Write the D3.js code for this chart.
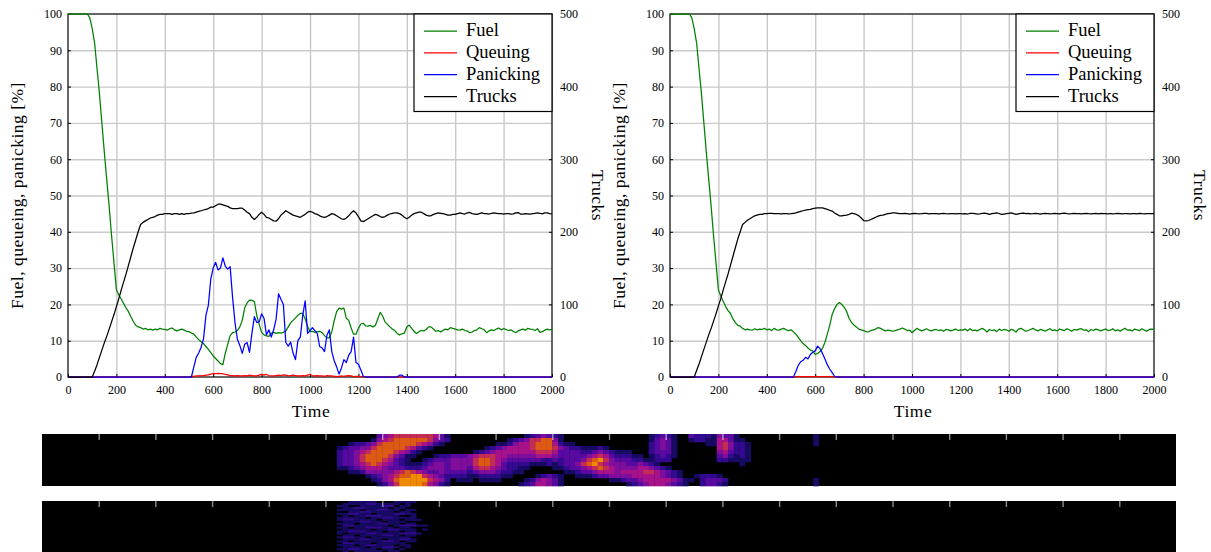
<!DOCTYPE html>
<head>
    <meta charset="utf-8">
    <style>
        body{
            margin:0;
            background:#fff;
        }
        svg{
            display:block;
        }
        text, .axis text{
            font-family:"Liberation Serif", serif;
            fill:#000;
        }
        .axis text{
            font-size:12px;
        }
        .axis .domain{
            display:none;
        }
        .grid line{
            stroke:#c9c9c9;
            stroke-width:1.4px;
        }
        .grid .domain, .grid text{
            display:none;
        }
        .series{
            fill:none;
            stroke-width:1.25px;
            stroke-linejoin:round;
        }
        .label{
            font-size:17.5px;
            letter-spacing:.5px;
        }
        .legend-text{
            font-size:18.5px;
        }
        .heat-ticks line{
            stroke:#fff;
            stroke-opacity:.55;
            stroke-width:1.4px;
        }
        .heat-ticks .domain, .heat-ticks text{
            display:none;
        }
    </style>
</head>
<body>
    <div id="chart"></div>
    <script src="https://d3js.org/d3.v7.min.js"></script>
    <script>
        // all series sampled every 10 time units, 0..2000
        var times = d3.range(0, 2001, 10);

        var fuelA = [
            100,100,100,100,100,100,100,100,100,99,
            96,92,85,78,70,62,54.5,47,39,31.5,
            24,22.6,21.5,20.2,19,18,16.6,15.3,14.2,13.8,
            13.6,13.2,13.4,13,13.2,12.9,13.2,13,13.4,13.2,
            13.1,12.9,13.3,13.5,13,12.7,13,13.2,12.9,12.6,
            12.5,12.1,11.8,11,10.3,9.7,9.2,8.4,7.6,6.7,
            5.8,5.1,4.4,3.7,3.4,6.6,9,11.4,12.2,12.4,
            12.8,13.8,15.6,19,20.4,21.2,21.1,20.8,17,14.5,
            12.3,11.6,11.3,11.2,12,12.3,12,12.2,12.1,12.3,
            12.7,13.8,14.9,15.6,16.3,17,17.5,17.5,16,14,
            12.5,12.6,12.3,12.5,12.6,12.2,11.4,10.8,10.8,12.4,
            15.5,18,19,18.7,19,16.2,15.6,13.5,11.8,11.8,
            13.4,14.6,14.8,14.1,14,14.2,13.8,14.2,16,17.8,
            16.8,15.2,14.5,13.8,13.2,12.8,12,11.6,11.9,12.1,
            13.8,14.3,13.4,12.6,12,12.5,12.8,12.7,13.1,13.8,
            13.8,13.2,12.6,12.8,12.4,12.9,13.2,13,13.6,13.4,
            13.2,13,12.9,13.2,12.8,12.7,12.2,12.4,12.8,13,
            13.6,13.3,13,12.2,12.7,13,12.8,13.2,13.5,13,
            13.3,13.1,12.8,13,12.6,12.2,12.7,13,13.2,12.9,
            13.4,13.2,13.1,12.8,13.3,12.3,12.5,12.9,13.2,13,
            13.1
        ];
        var queueA = [
            0,0,0,0,0,0,0,0,0,0, 0,0,0,0,0,0,0,0,0,0,
            0,0,0,0,0,0,0,0,0,0, 0,0,0,0,0,0,0,0,0,0,
            0,0,0,0,0,0,0,0,0,0,
            0,.2,.2,.3,.3,.3,.4,.5,.6,.8,
            .9,.9,1,.9,.9,.7,.6,.4,.4,.3,
            .4,.3,.3,.4,.3,.5,.4,.3,.3,.5,
            .7,.5,.7,.4,.3,.3,.4,.5,.4,.6,
            .5,.3,.4,.5,.4,.3,.3,.4,.3,.5,
            .7,.4,.3,.4,.3,.3,.2,.4,.3,.3,
            .2,.1,.2,.3,.2,.3,.4,.3,.1,.2,
            .2,.1,.1,0,0,0,0,0,0,0,
            0,0,0,0,0,0,0,0,0,0, 0,0,0,0,0,0,0,0,0,0,
            0,0,0,0,0,0,0,0,0,0, 0,0,0,0,0,0,0,0,0,0,
            0,0,0,0,0,0,0,0,0,0, 0,0,0,0,0,0,0,0,0,0,
            0,0,0,0,0,0,0,0,0,0,
            0
        ];
        var panicA = [
            0,0,0,0,0,0,0,0,0,0, 0,0,0,0,0,0,0,0,0,0,
            0,0,0,0,0,0,0,0,0,0, 0,0,0,0,0,0,0,0,0,0,
            0,0,0,0,0,0,0,0,0,0,
            0,0,2.8,5.4,6.6,8.2,10.5,17,19.8,27,
            30,31.6,29.5,30,32.8,30.5,29.7,30.4,22,15,
            10.4,8.7,6.5,9,9.5,6.8,12,16.6,15,15.2,
            17.4,16.2,11.6,13,11,13,16,22.9,21.4,20,
            9.5,8.5,9.6,6.6,4.8,10,11,17,21,12,
            12.8,13.6,12.8,12,8.4,8,7,11.5,13,7,
            4.5,2.8,.8,2.5,4.8,4,6,7,11,4,
            3.5,2,.2,0,0,0,0,0,0,0,
            0,0,0,0,0,0,0,.5,.5,0,
            0,0,0,0,0,0,0,0,0,0, 0,0,0,0,0,0,0,0,0,0,
            0,0,0,0,0,0,0,0,0,0, 0,0,0,0,0,0,0,0,0,0,
            0,0,0,0,0,0,0,0,0,0, 0,0,0,0,0,0,0,0,0,0,
            0
        ];
        var trucksA = [
            0,0,0,0,0,0,0,0,0,0,
            0,8,17,27,37,47,56,66,76,86,
            97,108,120,131,142,154,166,178,189,200,
            210,213,215,217,219,220,221,223,224,224,
            225,225,225,224,225,225,224,225,224,225,
            225,225.6,226,227,228,229,230,231,232,234,
            234,236,238,238,237,236,235,233,232,232,
            232,232.5,232.5,230,227,225,220,217,220,224,
            227,224,220,219,217,215,214.6,218,223,226,
            229,227,225,223,222,221,220,222,224,227,
            228,227,225,224,222,220.5,220,221,223,225,
            224,222,220,218,217,219,222,226,229,226,
            221,215,214,216,218,220,222,224,223,221,
            220,221,223,224.5,225.5,226,226,225,223,220,
            218,220,223,225,226,227,227,225,223,222,
            222,224,225,226,225.5,225,224,223,223,224,
            224,225,226,225,224.5,226,226.6,225,224.5,224,
            225,226,225,225,224.5,225.5,226,225.5,225,225,
            224.5,225,225,224.5,224.8,226,226.5,224.5,224.5,225,
            224.8,224.5,225,225.5,226,225.5,224.8,226,226,225,
            224.7
        ];

        var fuelB = [
            100,100,100,100,100,100,100,100,100,99,
            96,92,85,78,70,62,54.5,47,39,31.5,
            24,22.3,20.8,19.4,18.3,17.5,16,15,14.2,14,
            13.4,13,13.2,13,12.9,13.3,13,13.2,13.1,13.4,
            13,13.2,12.8,13.4,13,12.9,13.2,13.4,13,12.8,
            13,12.5,11.8,10.9,10,9.2,8.7,8,7.4,7.2,
            6.2,6.5,7,7.9,9.5,11.8,14.2,17.2,18.8,20,
            20.5,20,19.2,18,16.2,15,14.3,13.8,13.2,13,
            12.8,12.5,12.4,12.8,13,13.2,13.6,13.4,13,12.7,
            12.9,12.8,12.6,12.8,13,13.2,13.5,13.2,12.8,12.9,
            12.2,12.8,13.4,13,12.7,13,13.3,12.9,12.7,13,
            13.1,12.8,13,12.6,13.1,13,12.7,12.9,13.2,12.8,
            13,12.9,13.2,12.7,13.3,12.8,12.9,12.7,13.1,13.4,
            13,12.4,13.1,12.8,13,12.5,13.2,12.8,13.1,13,
            12.6,13.1,12.9,12.4,13.2,13.4,13,12.6,12.8,13.1,
            13.4,13,12.7,13.1,12.9,12.6,13,13.3,12.8,13,
            12.7,13.2,13,12.8,13.3,13,12.6,13.1,12.9,13.2,
            13.3,12.9,13,12.5,13.1,12.8,13.2,13,12.7,13,
            13.2,12.8,12.9,13.3,12.7,13,12.6,13.1,13.4,12.9,
            13,12.7,13.2,13,12.8,13.3,12.9,12.6,13.1,13.2,
            13.1
        ];
        var queueB = [
            0,0,0,0,0,0,0,0,0,0, 0,0,0,0,0,0,0,0,0,0,
            0,0,0,0,0,0,0,0,0,0, 0,0,0,0,0,0,0,0,0,0,
            0,0,0,0,0,0,0,0,0,0,
            0,0,.1,.1,.1,.1,.1,.1,.1,.1,
            .1,.1,.1,.1,.1,.1,.1,.1,.1,0,
            0,0,0,0,0,0,0,0,0,0, 0,0,0,0,0,0,0,0,0,0,
            0,0,0,0,0,0,0,0,0,0, 0,0,0,0,0,0,0,0,0,0,
            0,0,0,0,0,0,0,0,0,0, 0,0,0,0,0,0,0,0,0,0,
            0,0,0,0,0,0,0,0,0,0, 0,0,0,0,0,0,0,0,0,0,
            0,0,0,0,0,0,0,0,0,0, 0,0,0,0,0,0,0,0,0,0,
            0,0,0,0,0,0,0,0,0,0, 0,0,0,0,0,0,0,0,0,0,
            0,0,0,0,0,0,0,0,0,0,
            0
        ];
        var panicB = [
            0,0,0,0,0,0,0,0,0,0, 0,0,0,0,0,0,0,0,0,0,
            0,0,0,0,0,0,0,0,0,0, 0,0,0,0,0,0,0,0,0,0,
            0,0,0,0,0,0,0,0,0,0,
            0,0,1.5,3.2,4.2,4.6,5.4,5,6.2,6.8,
            7.2,8.5,7.8,6.5,5,3.4,2.2,1.2,.2,0,
            0,0,0,0,0,0,0,0,0,0, 0,0,0,0,0,0,0,0,0,0,
            0,0,0,0,0,0,0,0,0,0, 0,0,0,0,0,0,0,0,0,0,
            0,0,0,0,0,0,0,0,0,0, 0,0,0,0,0,0,0,0,0,0,
            0,0,0,0,0,0,0,0,0,0, 0,0,0,0,0,0,0,0,0,0,
            0,0,0,0,0,0,0,0,0,0, 0,0,0,0,0,0,0,0,0,0,
            0,0,0,0,0,0,0,0,0,0, 0,0,0,0,0,0,0,0,0,0,
            0,0,0,0,0,0,0,0,0,0,
            0
        ];
        var trucksB = [
            0,0,0,0,0,0,0,0,0,0,
            0,9,18,28,38,48,58,67,77,87,
            98,108,120,131,142,154,166,178,190,200,
            210,213,216,218,220,222,223,224,224,225,
            225,225.5,225.5,225,225,225,224.8,225,225,224.7,
            225,225.5,226,227,228,229,230,230.5,231,232,
            232.5,233,233,233,232,231,229.5,228.5,226,224,
            222,222,222.5,223,224,225.6,225,224,222,219,
            215.5,215,215.5,217,218.5,220,221.5,222.5,223,224,
            225,225.5,226,226,225.5,225,225,225.5,225,224.5,
            225,225.5,225,224.8,225,225.5,225.3,224.8,225,225.2,
            225,224.7,225,225.3,225,224.8,225.2,225,224.6,225,
            225.2,224.8,225,224.5,225.3,225.5,225,224.5,224.8,225.5,
            225.8,225,224,225,225.5,226,225.2,224,224.5,225,
            225.5,226,225,224,224.8,225.5,225.8,225,225.3,224.7,
            225,225.5,225,224.5,225,225.3,225,224.7,225,225.5,
            225.2,224.8,225.5,225.8,225,224.7,225,225.5,225.2,225,
            224.8,225.2,225.5,225,224.6,225,225.3,224.8,225.5,225.2,
            225,224.7,225.2,224.8,225,225.4,225,224.6,225.2,225,
            224.8,225.2,225,224.7,225.3,225,224.8,225.2,225,224.9,
            225
        ];

        var percentTicks = [0,10,20,30,40,50,60,70,80,90,100];
        var truckTicks = [0,100,200,300,400,500];
        var timeTicks = [0,200,400,600,800,1000,1200,1400,1600,1800,2000];
        var heatTicks = [100,200,300,400,500,600,700,800,900,1000,1100,1200,1300,1400,1500,1600,1700,1800,1900];

        var legendNames = ["Fuel","Queuing","Panicking","Trucks"];
        var legendColors = ["#008000","#ff0000","#0000ff","#000000"];

        // heat strips: one string per row, one digit per column (0 = black, 9 = hottest)
        var heatStart = 520, heatStep = 10;
        var heatRowsA = [
            "0000000345666666653100000000000001234321000000000000000123210032221433100000000000001000",
            "0000001456777777643200000000001234667741000000000000000134310012211553110000000000001000",
            "0012234677777765421000000000112455677752110000000000000234310000011564221000000000001000",
            "1233446777776532100000000012345555677764322111210000000234310000000564221000000000000000",
            "2334567777654210000000001234555555566653333223432111000233310000000453221000000000000000",
            "2334677776431100012233345666554444455543333345653222110123210000000342121000000000000000",
            "2334677765321001233344446776543333332232333467864333221122200000000221111000000000000000",
            "2334567654321112344344446776532222111212334678654443343210000000000000010000000000000000",
            "1123455543332223444344435665432211000011233456765444455432100000000000000000000000000000",
            "0011244444567654334333323444322110000000112334555455556654321000000000000000000000000000",
            "0000012345677886543222211222211000012321001112334444555554321001222100000000000000000000",
            "0000001245788888654201110111100001245431000000001123345555543110233320000000000000001000",
            "0000000124688887542100000000000012355431000000000001234555432100233210000000000000001000"
        ];
        var heatRowsB = [
            "00111110001111000000",
            "01111221111010000000",
            "11001111220110000000",
            "01122111101100000000",
            "11110112211011000000",
            "00112211110110000000",
            "11221101112211000000",
            "01011222111001000000",
            "11111011221111000000",
            "12211110111011100000",
            "01112211011100000000",
            "11101112211011000000",
            "02211111101222110000",
            "11011222110110000000",
            "01111101122111010000",
            "11222111011011000000",
            "10111221111222100000",
            "01101111221011000000",
            "12211011111110000000",
            "01112211011221000000",
            "11011111221011000000",
            "02211101111100000000",
            "11101221110110000000",
            "01111011221010000000",
            "11221110110100000000",
            "01011111011000000000"
        ];
        var heatLevels = [0,1,2,3,4,5,6,7,8,9];
        var heatColors = ["#000000","#170a62","#32098f","#58099f","#800e9c","#a7118a","#c32c55","#dd5a14","#f08a00","#ffc400"];

        var svg = d3.select("#chart").append("svg")
            .attr("width", 1211)
            .attr("height", 552);

        var top_ = 14, bottom_ = 377, plotWidth = 484;

        function drawPanel(left, fuel, queue, panic, trucks) {
            var x = d3.scaleLinear().domain([0, 2000]).range([left, left + plotWidth]);
            var y = d3.scaleLinear().domain([0, 100]).range([bottom_, top_]);
            var yRight = d3.scaleLinear().domain([0, 500]).range([bottom_, top_]);

            // grid
            svg.append("g")
                .attr("class", "grid")
                .attr("transform", "translate(0," + bottom_ + ")")
                .call(d3.axisBottom(x).tickValues(timeTicks.slice(1, -1)).tickSize(top_ - bottom_));
            svg.append("g")
                .attr("class", "grid")
                .attr("transform", "translate(" + left + ",0)")
                .call(d3.axisLeft(y).tickValues(percentTicks.slice(1, -1)).tickSize(-plotWidth));

            // frame
            svg.append("rect")
                .attr("x", left)
                .attr("y", top_)
                .attr("width", plotWidth)
                .attr("height", bottom_ - top_)
                .attr("fill", "none")
                .attr("stroke", "#000")
                .attr("stroke-width", 1.2);

            // axes
            svg.append("g")
                .attr("class", "axis")
                .attr("transform", "translate(0," + bottom_ + ")")
                .call(d3.axisBottom(x).tickValues(timeTicks).tickSizeInner(-3).tickSizeOuter(0).tickPadding(8).tickFormat(d3.format("d")));
            svg.append("g")
                .attr("class", "axis")
                .attr("transform", "translate(" + left + ",0)")
                .call(d3.axisLeft(y).tickValues(percentTicks).tickSizeInner(-3).tickSizeOuter(0).tickPadding(6));
            svg.append("g")
                .attr("class", "axis")
                .attr("transform", "translate(" + (left + plotWidth) + ",0)")
                .call(d3.axisRight(yRight).tickValues(truckTicks).tickSizeInner(-3).tickSizeOuter(0).tickPadding(8));

            var pctLine = d3.line()
                .x(function(d, i) { return x(times[i]); })
                .y(function(d) { return y(d); });
            var truckLine = d3.line()
                .x(function(d, i) { return x(times[i]); })
                .y(function(d) { return yRight(d); });

            svg.append("path").datum(fuel).attr("class", "series").attr("stroke", legendColors[0]).attr("d", pctLine);
            svg.append("path").datum(queue).attr("class", "series").attr("stroke", legendColors[1]).attr("d", pctLine);
            svg.append("path").datum(panic).attr("class", "series").attr("stroke", legendColors[2]).attr("d", pctLine);
            svg.append("path").datum(trucks).attr("class", "series").attr("stroke", legendColors[3]).attr("d", truckLine);

            // labels
            svg.append("text")
                .attr("class", "label")
                .attr("x", left + plotWidth / 2 + 1)
                .attr("y", 417)
                .attr("text-anchor", "middle")
                .text("Time");
            svg.append("text")
                .attr("class", "label")
                .attr("transform", "translate(" + (left - 45) + "," + (top_ + bottom_) / 2 + ") rotate(-90)")
                .attr("text-anchor", "middle")
                .text("Fuel, queueing, panicking [%]");
            svg.append("text")
                .attr("class", "label")
                .attr("transform", "translate(" + (left + plotWidth + 40) + "," + (top_ + bottom_) / 2 + ") rotate(90)")
                .attr("text-anchor", "middle")
                .text("Trucks");

            // legend
            var legendX = left + plotWidth - 138;
            svg.append("rect")
                .attr("x", legendX)
                .attr("y", top_)
                .attr("width", 138)
                .attr("height", 97.5)
                .attr("fill", "#fff")
                .attr("stroke", "#000")
                .attr("stroke-width", 1.2);
            var legendY = d3.scalePoint().domain(legendNames).range([31, 96.5]);
            legendNames.forEach(function(name, i) {
                svg.append("line")
                    .attr("x1", legendX + 10)
                    .attr("x2", legendX + 43)
                    .attr("y1", legendY(name))
                    .attr("y2", legendY(name))
                    .attr("stroke", legendColors[i])
                    .attr("stroke-width", 1.25);
                svg.append("text")
                    .attr("class", "legend-text")
                    .attr("x", legendX + 52)
                    .attr("y", legendY(name) + 5)
                    .text(name);
            });
        }

        function drawHeat(rows, y0, y1) {
            var heatX = d3.scaleLinear().domain([0, 2000]).range([42, 1176]);
            var heatY = d3.scaleBand().domain(d3.range(rows.length)).range([y0, y1]);
            var color = d3.scaleLinear().domain(heatLevels).range(heatColors);

            var cells = [];
            rows.forEach(function(row, r) {
                row.split("").forEach(function(c, i) {
                    cells.push({row: r, time: heatStart + i * heatStep, level: +c});
                });
            });

            svg.append("rect")
                .attr("x", heatX(0))
                .attr("y", y0)
                .attr("width", heatX(2000) - heatX(0))
                .attr("height", y1 - y0)
                .attr("fill", "#000");

            svg.append("g")
                .selectAll("rect")
                .data(cells.filter(function(d) { return d.level > 0; }))
                .join("rect")
                .attr("x", function(d) { return heatX(d.time); })
                .attr("y", function(d) { return heatY(d.row); })
                .attr("width", heatX(heatStep) - heatX(0) + .3)
                .attr("height", heatY.bandwidth() + .3)
                .attr("fill", function(d) { return color(d.level); });

            svg.append("g")
                .attr("class", "heat-ticks")
                .attr("transform", "translate(0," + y0 + ")")
                .call(d3.axisTop(heatX).tickValues(heatTicks).tickSize(-6));
        }

        drawPanel(68, fuelA, queueA, panicA, trucksA);
        drawPanel(670, fuelB, queueB, panicB, trucksB);
        drawHeat(heatRowsA, 434, 486);
        drawHeat(heatRowsB, 501, 552);
    </script>
</body>
